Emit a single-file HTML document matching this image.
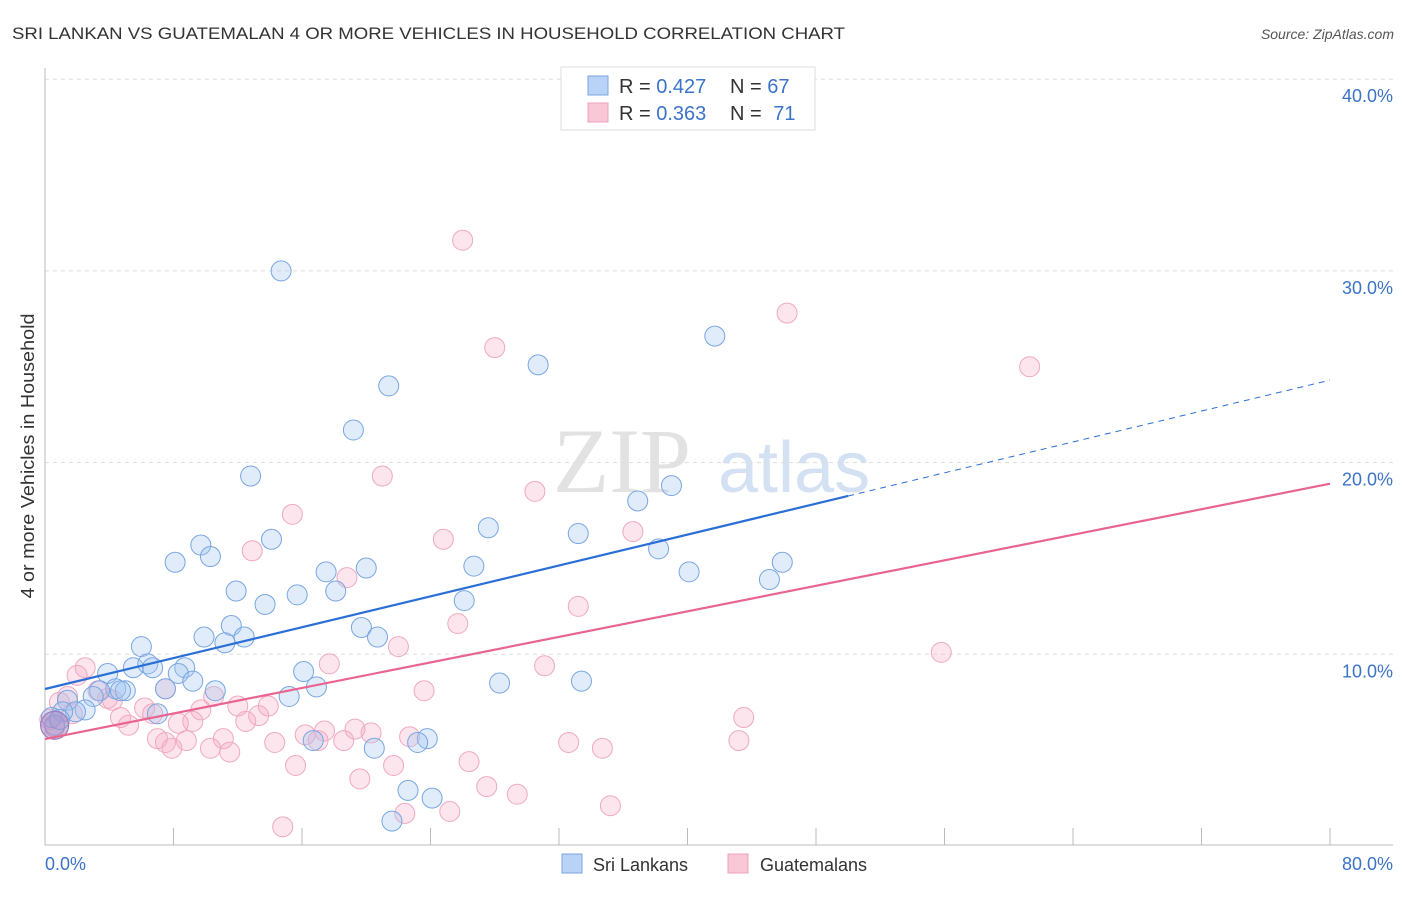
<!DOCTYPE html>
<html><head><meta charset="utf-8"><style>
body{margin:0;background:#fff;font-family:"Liberation Sans",sans-serif}
</style></head><body>
<svg width="1406" height="892" xmlns="http://www.w3.org/2000/svg" font-family="Liberation Sans, sans-serif">
<text x="12" y="39" font-size="17" fill="#333" textLength="833" lengthAdjust="spacingAndGlyphs">SRI LANKAN VS GUATEMALAN 4 OR MORE VEHICLES IN HOUSEHOLD CORRELATION CHART</text>
<text x="1394" y="39" font-size="14" fill="#555" font-style="italic" text-anchor="end">Source: ZipAtlas.com</text>
<g><text x="553" y="492" font-size="92" font-family="Liberation Serif, serif" fill="#e2e2e2">ZIP</text><text x="718" y="492" font-size="72" fill="#d3e1f3">atlas</text></g>
<g id="grid"></g>
<line x1="45" y1="68" x2="45" y2="845" stroke="#bbb"/>
<line x1="45" y1="845" x2="1393" y2="845" stroke="#bbb"/>
<g id="ticks"></g>
<g id="pts"></g>
<g id="trend"></g>
<text x="34" y="456" font-size="18" fill="#333" text-anchor="middle" textLength="285" lengthAdjust="spacingAndGlyphs" transform="rotate(-90 34 456)">4 or more Vehicles in Household</text>
<text x="45" y="870" font-size="18" fill="#3b73c9">0.0%</text>
<text x="1393" y="870" font-size="18" fill="#3b73c9" text-anchor="end">80.0%</text>
<g>
<rect x="561" y="67" width="254" height="63" fill="#fff" stroke="#ddd"/>
<rect x="588" y="76" width="20" height="19" fill="#b8d3f5" stroke="#7aa6e0"/>
<rect x="588" y="103" width="20" height="19" fill="#f8c8d7" stroke="#eea0b9"/>
<text x="619" y="93" font-size="20" fill="#333">R = <tspan fill="#3b73c9">0.427</tspan></text>
<text x="730" y="93" font-size="20" fill="#333">N = <tspan fill="#3b73c9">67</tspan></text>
<text x="619" y="120" font-size="20" fill="#333">R = <tspan fill="#3b73c9">0.363</tspan></text>
<text x="730" y="120" font-size="20" fill="#333">N = <tspan fill="#3b73c9" dx="6">71</tspan></text>
</g>
<g><rect x="562" y="854" width="20" height="19" fill="#b8d3f5" stroke="#7aa6e0"/><text x="593" y="871" font-size="18" fill="#333">Sri Lankans</text></g>
<g><rect x="728" y="854" width="20" height="19" fill="#f8c8d7" stroke="#eea0b9"/><text x="760" y="871" font-size="18" fill="#333">Guatemalans</text></g>
</svg>
<script>
const yTicks=[10,20,30,40];
const yTickLabels=["10.0%","20.0%","30.0%","40.0%"];
const xTicks=[0,8,16,24,32,40,48,56,64,72,80];
const blueX=[14.7,41.7,30.7,21.4,19.2,12.8,39.0,36.9,27.6,33.2,14.1,9.7,38.2,10.3,8.1,45.9,20.0,26.7,17.5,40.1,45.1,11.9,15.7,18.1,13.7,26.1,11.6,19.7,9.9,12.4,20.7,11.2,6.0,5.5,6.4,8.7,8.3,3.9,6.7,16.1,9.2,33.4,28.3,7.5,16.9,4.4,5.0,10.6,3.4,3.0,15.2,1.4,2.5,1.9,7.0,1.1,0.4,0.6,23.8,23.2,16.7,20.5,22.6,24.1,21.6,4.7,0.9];
const blueY=[30.0,26.6,25.1,24.0,21.7,19.3,18.8,18.0,16.6,16.3,16.0,15.7,15.5,15.1,14.8,14.8,14.5,14.6,14.3,14.3,13.9,13.3,13.1,13.3,12.6,12.8,11.5,11.4,10.9,10.9,10.9,10.6,10.4,9.3,9.5,9.3,9.0,9.0,9.3,9.1,8.6,8.6,8.5,8.2,8.3,8.2,8.1,8.1,8.1,7.8,7.8,7.6,7.1,7.0,6.9,7.0,6.7,6.3,5.6,5.4,5.5,5.1,2.9,2.5,1.3,8.1,6.6];
const pinkX=[26.0,46.2,28.0,61.3,21.0,30.5,15.4,24.8,36.6,12.9,18.8,33.2,25.7,22.0,55.8,31.1,17.7,2.5,2.0,23.6,7.5,3.3,10.5,3.9,1.4,4.2,0.9,13.9,6.2,9.7,12.0,6.7,4.7,13.3,43.5,9.2,8.3,12.5,5.2,17.4,19.3,16.2,7.0,20.3,11.1,8.8,22.7,17.0,7.5,18.6,14.3,43.2,32.6,7.9,10.3,34.7,11.5,26.4,15.6,21.7,19.6,27.5,29.4,35.2,22.4,25.2,14.8,0.6,0.3,1.7];
const pinkY=[31.6,27.8,26.0,25.0,19.3,18.5,17.3,16.0,16.4,15.4,14.0,12.5,11.6,10.4,10.1,9.4,9.5,9.3,8.9,8.1,8.2,8.1,7.8,7.7,7.8,7.6,7.5,7.3,7.2,7.1,7.3,6.9,6.7,6.8,6.7,6.5,6.4,6.5,6.3,6.0,6.1,5.8,5.6,5.9,5.6,5.5,5.7,5.5,5.4,5.5,5.4,5.5,5.4,5.1,5.1,5.1,4.9,4.4,4.2,4.2,3.5,3.1,2.7,2.1,1.7,1.8,1.0,6.2,6.6,6.9];
const blueTrend=[8.19,24.3];
const pinkTrend=[5.58,18.9];
const blueSolidEnd=50;
const NS="http://www.w3.org/2000/svg";
const sx=v=>45+v/80*1285, sy=v=>846-v*19.17;
function mk(t,a,p){const e=document.createElementNS(NS,t);for(const k in a)e.setAttribute(k,a[k]);p.appendChild(e);return e;}
const grid=document.getElementById('grid');
yTicks.forEach((t,i)=>{
 const l=mk('line',{x1:45,x2:1393,y1:sy(t),y2:sy(t),stroke:'#ddd','stroke-dasharray':'4 4'},grid);
 
 
 const tx=mk('text',{x:1393,y:sy(t)+23,'font-size':18,fill:'#3b73c9','text-anchor':'end'},grid);
 tx.textContent=yTickLabels[i];
 
 
});
const tk=document.getElementById('ticks');
xTicks.forEach(t=>{
 const l=mk('line',{x1:sx(t),x2:sx(t),y1:828,y2:845,stroke:'#bbb'},tk);
 
 
});
const pts=document.getElementById('pts');
pinkX.forEach((x,i)=>{
 const c=mk('circle',{cx:sx(x),cy:sy(pinkY[i]),r:10,fill:'rgba(245,170,195,0.3)',stroke:'#f0a8c0','stroke-width':1},pts);
 
 
});
blueX.forEach((x,i)=>{
 const c=mk('circle',{cx:sx(x),cy:sy(blueY[i]),r:10,fill:'rgba(160,196,240,0.33)',stroke:'#78a6e2','stroke-width':1},pts);
 
 
});
const big=mk('circle',{cx:sx(0.6),cy:sy(6.3),r:14,fill:'rgba(170,130,190,0.5)',stroke:'#9a7ec0','stroke-width':1.2},pts);


const tr=document.getElementById('trend');
const bAt=x=>blueTrend[0]+(blueTrend[1]-blueTrend[0])*x/80;
const pAt=x=>pinkTrend[0]+(pinkTrend[1]-pinkTrend[0])*x/80;
const b1=mk('line',{x1:sx(0),y1:sy(bAt(0)),x2:sx(blueSolidEnd),y2:sy(bAt(blueSolidEnd)),stroke:'#2a6fd6','stroke-width':2.2},tr);


const b2=mk('line',{x1:sx(blueSolidEnd),y1:sy(bAt(blueSolidEnd)),x2:sx(80),y2:sy(bAt(80)),stroke:'#2a6fd6','stroke-width':1,'stroke-dasharray':'6 5'},tr);


const p1=mk('line',{x1:sx(0),y1:sy(pAt(0)),x2:sx(80),y2:sy(pAt(80)),stroke:'#e8658f','stroke-width':2.2},tr);


</script>
</body></html>
